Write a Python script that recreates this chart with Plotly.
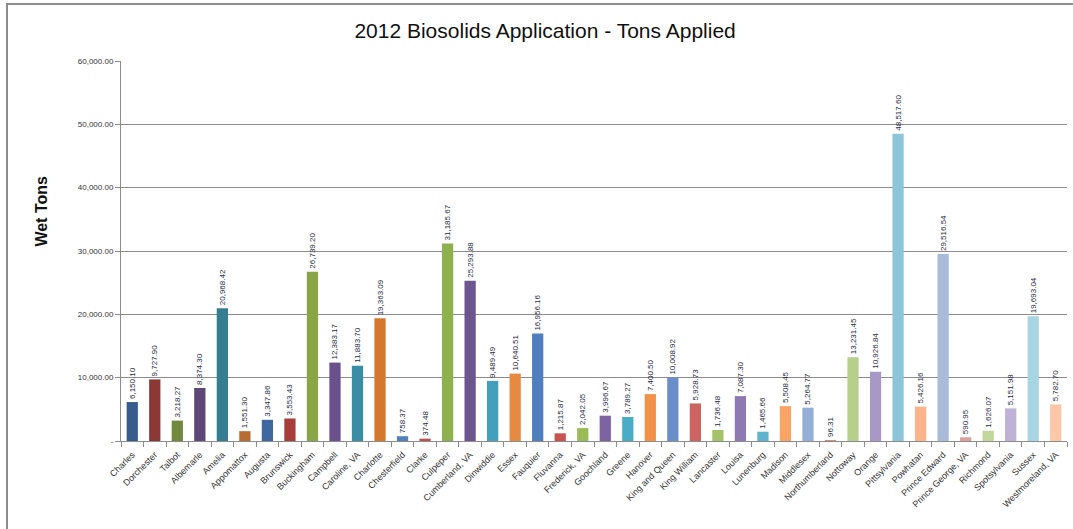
import plotly.graph_objects as go

counties = ["Charles", "Dorchester", "Talbot", "Albemarle", "Amelia", "Appomattox", "Augusta",
            "Brunswick", "Buckingham", "Campbell", "Caroline, VA", "Charlotte", "Chesterfield",
            "Clarke", "Culpeper", "Cumberland, VA", "Dinwiddie", "Essex", "Fauquier", "Fluvanna",
            "Frederick, VA", "Goochland", "Greene", "Hanover", "King and Queen", "King William",
            "Lancaster", "Louisa", "Lunenburg", "Madison", "Middlesex", "Northumberland",
            "Nottoway", "Orange", "Pittsylvania", "Powhatan", "Prince Edward", "Prince George, VA",
            "Richmond", "Spotsylvania", "Sussex", "Westmoreland, VA"]

wet_tons = [6150.10, 9727.90, 3218.27, 8374.30, 20968.42, 1551.30, 3347.86,
            3553.43, 26739.20, 12383.17, 11883.70, 19363.09, 758.37,
            374.48, 31185.67, 25293.88, 9489.49, 10640.51, 16956.16, 1215.87,
            2042.05, 3996.67, 3789.27, 7400.50, 10008.92, 5928.73,
            1736.48, 7087.30, 1465.66, 5508.45, 5264.77, 96.31,
            13231.45, 10926.84, 48517.60, 5426.16, 29516.54, 590.95,
            1626.07, 5151.98, 19693.04, 5782.70]

bar_colors = ["#385D8A", "#8C3836", "#71893F", "#5C4776", "#357D91", "#B66D31",
              "#3F67A0", "#A83E3B", "#88A548", "#6A508D", "#3B8DA5", "#D5782E",
              "#4F81BD", "#C0504D", "#8FB04E", "#6D5590", "#43A0BA", "#E58A40",
              "#4F7FBF", "#C85350", "#9BBB59", "#7D63A0", "#4BACC6", "#F29148",
              "#6A8FC8", "#CD6462", "#A5C26B", "#8F79B3", "#5EB4CE", "#F9A366",
              "#95AED6", "#D68B89", "#B7CF8C", "#A898C5", "#8CC4D8", "#FAB38A",
              "#AABBD9", "#D9A0A0", "#C3D69B", "#C0B2D6", "#A9D5E2", "#FBC7A8"]

y_ticks = [0, 10000, 20000, 30000, 40000, 50000, 60000]
y_tick_text = ["-", "10,000.00", "20,000.00", "30,000.00", "40,000.00", "50,000.00", "60,000.00"]

fig = go.Figure(go.Bar(
    x=counties, y=wet_tons,
    marker=dict(color=bar_colors, line=dict(width=0)),
    texttemplate="%{y:,.2f}",
    textposition="outside",
    textangle=-90,
    constraintext="none",
    cliponaxis=False,
    textfont=dict(family="Liberation Sans", size=8, color="#1F2A44"),
))

fig.update_layout(
    width=1073, height=529,
    margin=dict(l=121, r=6, t=61, b=88),
    paper_bgcolor="white", plot_bgcolor="white",
    bargap=0.5,
    showlegend=False,
    title=dict(text="2012 Biosolids Application - Tons Applied",
               x=0.508, xanchor="center", y=0.942, yanchor="middle",
               font=dict(family="Liberation Sans", size=21, color="#111111")),
    font=dict(family="Liberation Sans"),
)

fig.update_yaxes(
    range=[0, 60000],
    tickvals=y_ticks, ticktext=y_tick_text,
    tickfont=dict(size=8, color="#333333"),
    showgrid=True, gridcolor="#8C8C8C", gridwidth=1,
    showline=True, linecolor="#8C8C8C", linewidth=1,
    ticks="outside", ticklen=5, tickcolor="#8C8C8C",
    zeroline=False,
)

fig.update_xaxes(
    type="category",
    tickangle=-45,
    tickfont=dict(size=9, color="#333333"),
    ticklabelstandoff=4,
    showline=True, linecolor="#8C8C8C", linewidth=1,
    ticks="outside", ticklen=5, tickcolor="#8C8C8C",
    tickson="boundaries",
    showgrid=False,
)

fig.add_annotation(text="<b>Wet Tons</b>", xref="paper", yref="paper",
                   x=-0.085, y=(441 - 211) / 380, textangle=-90, showarrow=False,
                   xanchor="center", yanchor="middle",
                   font=dict(family="Liberation Sans", size=16, color="#111111"))

fig.add_shape(type="rect", xref="paper", yref="paper",
              x0=-0.1205, x1=1.01, y0=-0.24, y1=(441 - 4) / 380,
              line=dict(color="#8C8C8C", width=2), fillcolor="rgba(0,0,0,0)")

fig.write_html("out.html")
